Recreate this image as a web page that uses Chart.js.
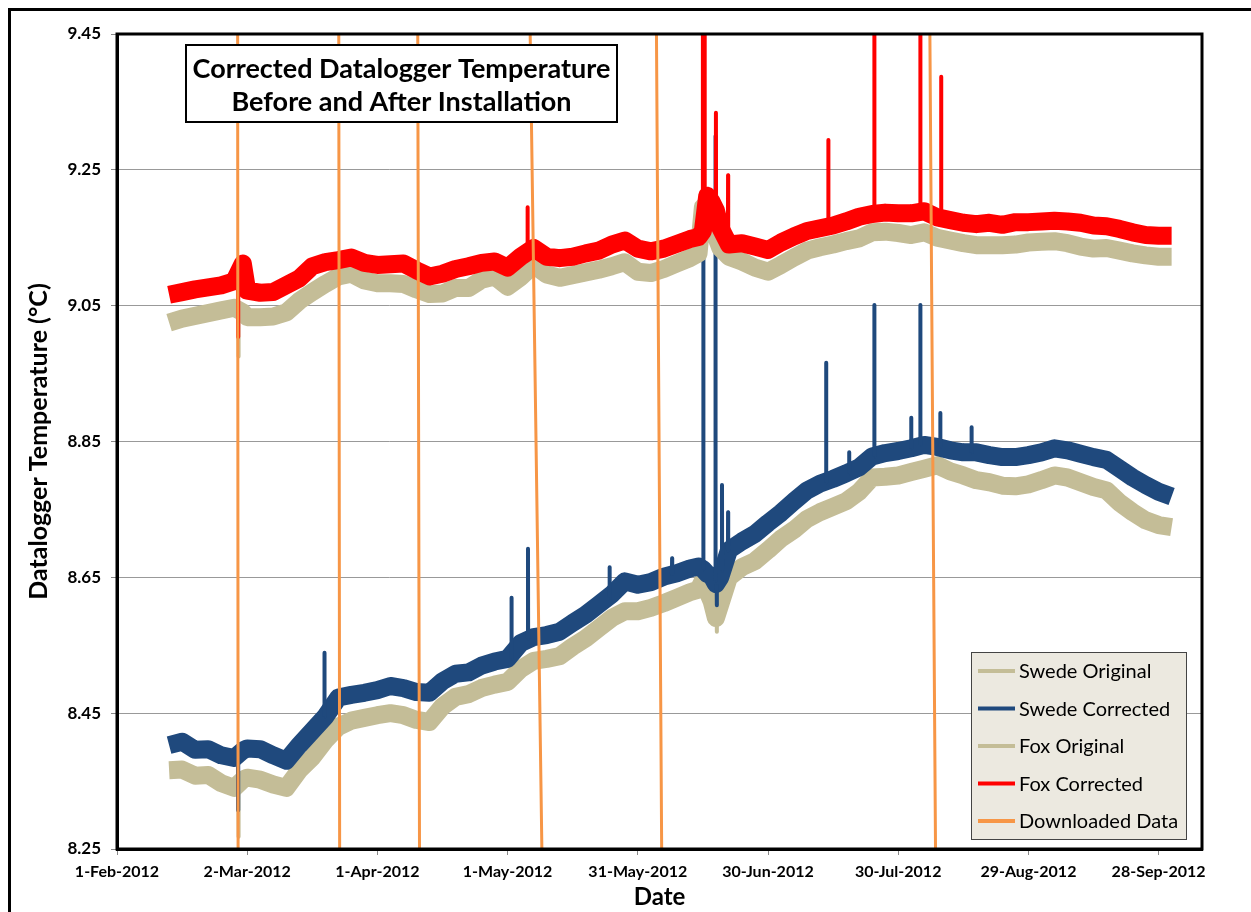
<!DOCTYPE html>
<html>
<head>
<meta charset="utf-8">
<script src="https://cdn.jsdelivr.net/npm/chart.js@4.4.1/dist/chart.umd.min.js"></script>
<style>
  html, body { margin: 0; padding: 0; background: #fff; }
  #tempChart { display: block; }
</style>
</head>
<body>
<canvas id="tempChart" width="1251" height="912"></canvas>
<script>
// Hari sejak 1-Feb-2012
const days = [12, 15, 18, 21, 24, 27, 29,
  30, 33, 36, 39, 42, 45, 48, 51, 54, 57, 60, 63, 66, 69, 72, 75, 78, 81, 84, 87,
  90, 93, 96, 99, 102, 105, 108, 111, 114, 117, 120, 123, 126, 129, 132,
  134, 135, 136, 137, 138, 139, 141,
  144, 147, 150, 153, 156, 159, 162, 165, 168, 171, 174, 177, 180, 183, 186, 189,
  192, 195, 198, 201, 204, 207, 210, 213, 216, 219, 222, 225, 228, 231, 234, 237, 240, 243];

const swedeOriginal = [8.366, 8.367, 8.358, 8.359, 8.347, 8.340, 8.352,
  8.355, 8.352, 8.345, 8.340, 8.366, 8.385, 8.410, 8.430, 8.439, 8.443, 8.447, 8.450, 8.447, 8.440, 8.437, 8.460, 8.474, 8.478, 8.487, 8.492,
  8.496, 8.515, 8.527, 8.530, 8.534, 8.548, 8.560, 8.575, 8.590, 8.600, 8.600, 8.605, 8.612, 8.620, 8.628,
  8.632, 8.645, 8.630, 8.615, 8.590, 8.610, 8.650,
  8.665, 8.674, 8.690, 8.707, 8.720, 8.736, 8.746, 8.754, 8.762, 8.776, 8.797, 8.798, 8.800, 8.805, 8.810, 8.815,
  8.806, 8.800, 8.793, 8.790, 8.785, 8.784, 8.787, 8.793, 8.800, 8.797, 8.790, 8.783, 8.778, 8.760, 8.746, 8.734, 8.727, 8.724];

const swedeCorrected = [8.403, 8.408, 8.396, 8.397, 8.388, 8.384, 8.395,
  8.398, 8.397, 8.388, 8.380, 8.403, 8.424, 8.445, 8.473, 8.477, 8.480, 8.484, 8.490, 8.487, 8.481, 8.480, 8.497, 8.508, 8.510, 8.520, 8.526,
  8.530, 8.553, 8.562, 8.565, 8.570, 8.583, 8.595, 8.610, 8.625, 8.644, 8.639, 8.643, 8.651, 8.656, 8.663,
  8.666, 8.662, 8.655, 8.652, 8.640, 8.650, 8.690,
  8.703, 8.714, 8.730, 8.745, 8.762, 8.778, 8.788, 8.795, 8.803, 8.812, 8.828, 8.833, 8.836, 8.840, 8.845, 8.842,
  8.837, 8.834, 8.834, 8.830, 8.827, 8.827, 8.830, 8.834, 8.840, 8.837, 8.832, 8.827, 8.823, 8.810, 8.797, 8.786, 8.776, 8.769];

const foxOriginal = [9.025, 9.031, 9.035, 9.039, 9.043, 9.047, 9.040,
  9.033, 9.033, 9.034, 9.040, 9.057, 9.070, 9.082, 9.093, 9.097, 9.087, 9.083, 9.083, 9.082, 9.074, 9.067, 9.068, 9.076, 9.076, 9.088, 9.093,
  9.078, 9.092, 9.110, 9.096, 9.091, 9.095, 9.099, 9.103, 9.108, 9.114, 9.100, 9.098, 9.104, 9.112, 9.120,
  9.127, 9.195, 9.200, 9.180, 9.152, 9.135, 9.122,
  9.115, 9.106, 9.100, 9.110, 9.121, 9.131, 9.136, 9.140, 9.145, 9.149, 9.158, 9.159, 9.157, 9.154, 9.158, 9.150,
  9.146, 9.142, 9.139, 9.139, 9.139, 9.140, 9.143, 9.144, 9.145, 9.142, 9.137, 9.134, 9.135, 9.131, 9.127, 9.124, 9.122, 9.122];

const foxCorrected = [9.066, 9.070, 9.074, 9.077, 9.080, 9.086, 9.112,
  9.072, 9.069, 9.070, 9.080, 9.090, 9.108, 9.114, 9.117, 9.121, 9.113, 9.110, 9.111, 9.112, 9.102, 9.093, 9.097, 9.104, 9.108, 9.113, 9.115,
  9.106, 9.122, 9.135, 9.122, 9.120, 9.122, 9.127, 9.131, 9.140, 9.146, 9.134, 9.130, 9.134, 9.141, 9.148,
  9.151, 9.160, 9.212, 9.203, 9.190, 9.165, 9.140,
  9.142, 9.137, 9.132, 9.143, 9.152, 9.160, 9.164, 9.168, 9.174, 9.181, 9.185, 9.187, 9.186, 9.186, 9.189, 9.180,
  9.176, 9.172, 9.170, 9.172, 9.169, 9.173, 9.173, 9.174, 9.175, 9.174, 9.172, 9.168, 9.167, 9.163, 9.158, 9.154, 9.153, 9.153];

// Lonjakan singkat (hari, nilai dasar, nilai puncak)
const foxSpikeDays  = [27.9, 94.6, 135.0, 135.4, 138.0, 140.8, 163.9, 174.5, 185.1, 189.9];
const foxSpikeBases = [9.085, 9.130, 9.155, 9.210, 9.190, 9.145, 9.166, 9.185, 9.188, 9.180];
const foxSpikePeaks = [9.004, 9.195, 9.600, 9.600, 9.334, 9.242, 9.294, 9.600, 9.600, 9.387];

const swedeSpikeDays  = [27.9, 47.8, 90.9, 94.7, 113.5, 127.9, 135.1, 137.9, 138.2, 139.4, 140.8, 163.4, 168.7, 174.5, 183.0, 185.1, 189.7, 196.9];
const swedeSpikeBases = [8.384, 8.445, 8.530, 8.560, 8.620, 8.655, 8.662, 8.645, 8.640, 8.660, 8.690, 8.790, 8.803, 8.828, 8.840, 8.845, 8.842, 8.834];
const swedeSpikePeaks = [8.307, 8.539, 8.620, 8.692, 8.665, 8.678, 9.200, 9.300, 8.609, 8.786, 8.746, 8.966, 8.834, 9.051, 8.885, 9.051, 8.892, 8.871];

const originalDipDays  = [28.0, 28.0, 138.2];
const originalDipBases = [9.045, 8.345, 8.595];
const originalDipPeaks = [8.975, 8.268, 8.570];

// Garis unduh data (hari di atas dan di bawah)
const downloadTopDays    = [27.8, 51.1, 69.3, 95.2, 124.3, 187.3];
const downloadBottomDays = [27.9, 51.3, 69.7, 97.9, 125.5, 188.6];

// Label sumbu
const xTickDays = [0, 30, 60, 90, 120, 150, 180, 210, 240];
const xTickLabels = ['1-Feb-2012', '2-Mar-2012', '1-Apr-2012', '1-May-2012', '31-May-2012',
  '30-Jun-2012', '30-Jul-2012', '29-Aug-2012', '28-Sep-2012'];
const yTicks = [8.25, 8.45, 8.65, 8.85, 9.05, 9.25, 9.45];

const FONT = 'Lato, "Open Sans", sans-serif';
const TAN = '#C4BD97';
const BLUE = '#1F497D';
const RED = '#FF0000';
const ORANGE = '#F79646';

function series(values) {
    return days.map((d, i) => ({ x: d, y: values[i] }));
}

function spikes(dayArr, baseArr, peakArr) {
    const pts = [];
    dayArr.forEach((d, i) => {
        pts.push({ x: d - 0.03, y: baseArr[i] }, { x: d, y: peakArr[i] },
                 { x: d + 0.03, y: baseArr[i] }, { x: d + 0.04, y: null });
    });
    return pts;
}

function downloads() {
    const pts = [];
    downloadTopDays.forEach((d, i) => {
        pts.push({ x: d, y: 9.45 }, { x: downloadBottomDays[i], y: 8.25 }, { x: downloadBottomDays[i] + 0.01, y: null });
    });
    return pts;
}

const mainLine = { borderWidth: 18, pointRadius: 0, tension: 0, borderJoinStyle: 'round', fill: false };
const spikeLine = { borderWidth: 4, pointRadius: 0, tension: 0, borderJoinStyle: 'round', fill: false, spike: true };

const data = {
    datasets: [
        { ...mainLine, label: 'Swede Original', data: series(swedeOriginal), borderColor: TAN, backgroundColor: TAN, order: 9 },
        { ...mainLine, label: 'Swede Corrected', data: series(swedeCorrected), borderColor: BLUE, backgroundColor: BLUE, order: 7 },
        { ...mainLine, label: 'Fox Original', data: series(foxOriginal), borderColor: TAN, backgroundColor: TAN, order: 5 },
        { ...mainLine, label: 'Fox Corrected', data: series(foxCorrected), borderColor: RED, backgroundColor: RED, order: 3 },
        { label: 'Downloaded Data', data: downloads(), borderColor: ORANGE, backgroundColor: ORANGE,
          borderWidth: 3, pointRadius: 0, tension: 0, fill: false, order: 1 },
        { ...spikeLine, label: '', data: spikes(originalDipDays, originalDipBases, originalDipPeaks), borderColor: TAN, order: 10 },
        { ...spikeLine, label: '', data: spikes(swedeSpikeDays, swedeSpikeBases, swedeSpikePeaks), borderColor: BLUE, order: 6 },
        { ...spikeLine, label: '', data: spikes(foxSpikeDays, foxSpikeBases, foxSpikePeaks), borderColor: RED, order: 2 }
    ]
};

// Bingkai, judul dan legenda
const decorations = {
    id: 'decorations',
    beforeDraw(chart) {
        const c = chart.ctx;
        c.save();
        c.fillStyle = '#fff';
        c.fillRect(0, 0, chart.width, chart.height);
        c.strokeStyle = '#000';
        c.lineWidth = 3;
        c.beginPath();
        c.moveTo(9.5, chart.height + 5);
        c.lineTo(9.5, 9.5);
        c.lineTo(chart.width + 5, 9.5);
        c.stroke();
        c.restore();
    },
    afterDatasetsDraw(chart) {
        const c = chart.ctx;
        c.save();
        // kotak judul
        c.fillStyle = '#fff';
        c.fillRect(186, 45, 431, 77);
        c.strokeStyle = '#000';
        c.lineWidth = 2;
        c.strokeRect(186, 45, 431, 77);
        c.fillStyle = '#000';
        c.textAlign = 'center';
        c.textBaseline = 'middle';
        let size = 27;
        c.font = `bold ${size}px ${FONT}`;
        while (c.measureText('Corrected Datalogger Temperature').width > 418 && size > 10) {
            size -= 0.5;
            c.font = `bold ${size}px ${FONT}`;
        }
        c.fillText('Corrected Datalogger Temperature', 401.5, 69);
        c.fillText('Before and After Installation', 401.5, 102);

        // legenda
        c.fillStyle = '#ECE9E0';
        c.fillRect(971.5, 652.5, 215, 187);
        c.strokeStyle = '#444';
        c.lineWidth = 1;
        c.strokeRect(971.5, 652.5, 215, 187);
        c.textAlign = 'left';
        c.font = `20px ${FONT}`;
        chart.data.datasets.slice(0, 5).forEach((ds, i) => {
            const y = 671 + i * 37.5;
            c.strokeStyle = ds.borderColor;
            c.lineWidth = 4;
            c.beginPath();
            c.moveTo(978, y);
            c.lineTo(1015, y);
            c.stroke();
            c.fillStyle = '#000';
            c.fillText(ds.label, 1019, y + 1);
        });
        c.restore();
    },
    afterDraw(chart) {
        const a = chart.chartArea;
        const c = chart.ctx;
        c.save();
        c.strokeStyle = '#000';
        c.lineWidth = 3;
        c.strokeRect(a.left, a.top, a.right - a.left, a.bottom - a.top);
        c.restore();
    }
};

const config = {
    type: 'line',
    data: data,
    options: {
        responsive: false,
        animation: false,
        layout: { padding: { top: 34, right: 49, left: 0, bottom: 0 } },
        plugins: {
            legend: { display: false },
            tooltip: { enabled: false }
        },
        scales: {
            x: {
                type: 'linear',
                min: 0,
                max: 250,
                afterBuildTicks: (s) => { s.ticks = xTickDays.map(v => ({ value: v })); },
                afterFit: (s) => { s.height = 63; },
                ticks: {
                    callback: (v) => xTickLabels[xTickDays.indexOf(v)],
                    font: { family: FONT, size: 16, weight: 'bold' },
                    color: '#000',
                    padding: 7,
                    maxRotation: 0,
                    autoSkip: false
                },
                grid: { drawOnChartArea: false, drawTicks: true, tickLength: 6, tickColor: '#888' },
                border: { color: '#000', width: 3 },
                title: {
                    display: true,
                    text: 'Date',
                    font: { family: FONT, size: 24, weight: 'bold' },
                    color: '#000',
                    padding: { top: 0, bottom: 0 }
                }
            },
            y: {
                min: 8.25,
                max: 9.45,
                afterBuildTicks: (s) => { s.ticks = yTicks.map(v => ({ value: v })); },
                afterFit: (s) => { s.width = 117; },
                ticks: {
                    callback: (v) => v.toFixed(2),
                    font: { family: FONT, size: 17, weight: 'bold' },
                    color: '#000',
                    padding: 10
                },
                grid: { color: '#999', lineWidth: 1, tickLength: 6, tickColor: '#888' },
                border: { color: '#000', width: 3 },
                title: {
                    display: true,
                    text: 'Datalogger Temperature (°C)',
                    font: { family: FONT, size: 25, weight: 'bold' },
                    color: '#000',
                    padding: { top: 24, bottom: 0 }
                }
            }
        }
    },
    plugins: [decorations]
};

new Chart(document.getElementById('tempChart').getContext('2d'), config);
</script>
</body>
</html>
